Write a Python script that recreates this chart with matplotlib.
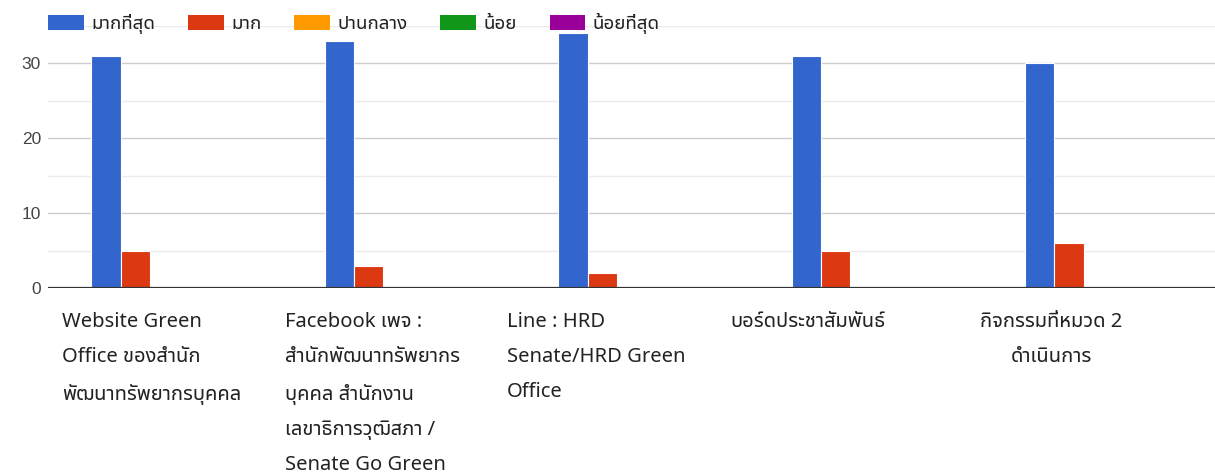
import numpy as np
import matplotlib
matplotlib.use("Agg")
import matplotlib.pyplot as plt
from matplotlib.patches import Patch
import matplotlib.transforms as mtransforms

THAI = ["Noto Sans Thai UI", "Noto Sans", "DejaVu Sans"]

# ---------------- Data ----------------
categories = [
    "Website Green\nOffice ของสำนัก\nพัฒนาทรัพยากรบุคคล",
    "Facebook เพจ :\nสำนักพัฒนาทรัพยากร\nบุคคล สำนักงาน\nเลขาธิการวุฒิสภา /\nSenate Go Green",
    "Line : HRD\nSenate/HRD Green\nOffice",
    "บอร์ดประชาสัมพันธ์",
    "กิจกรรมที่หมวด 2\nดำเนินการ",
]
series_names = ["มากที่สุด", "มาก", "ปานกลาง", "น้อย", "น้อยที่สุด"]
series_colors = ["#3366cc", "#dc3912", "#ff9900", "#109618", "#990099"]
most = [31, 33, 34, 31, 30]
much = [5, 3, 2, 5, 6]
medium = [0, 0, 0, 0, 0]
little = [0, 0, 0, 0, 0]
least = [0, 0, 0, 0, 0]
values = [most, much, medium, little, least]

# label anchors (data x) and alignment for wrapped category labels
label_x = [-0.44, 0.515, 1.467, 2.422, 3.797]
label_ha = ["left", "left", "left", "left", "center"]

# ---------------- Plot ----------------
fig = plt.figure(figsize=(12.15, 4.75), dpi=100)
ax = fig.add_axes([48 / 1215, 1 - 288 / 475, 1 - 48 / 1215, 262.5 / 475])

x = np.arange(len(categories))
group = 0.628
w = group / len(values)
for i, (vals, col) in enumerate(zip(values, series_colors)):
    ax.bar(x - group / 2 + w * (i + 0.5), vals, width=w, color=col,
           edgecolor="white", linewidth=0.8, zorder=3)

ax.set_xlim(-0.5, len(categories) - 0.5)
ax.set_ylim(0, 35)
ax.set_yticks([0, 10, 20, 30])
ax.set_yticks([5, 15, 25, 35], minor=True)
ax.grid(axis="y", which="major", color="#cccccc", linewidth=1, zorder=0)
ax.grid(axis="y", which="minor", color="#ebebeb", linewidth=1, zorder=0)
ax.axhline(0, color="#333333", linewidth=1.6, zorder=4)
for s in ax.spines.values():
    s.set_visible(False)
ax.tick_params(axis="y", which="both", length=0, pad=5, labelsize=12.5,
               labelcolor="#444444")
ax.tick_params(axis="x", length=0, labelbottom=False)
for lab in ax.get_yticklabels():
    lab.set_family("Liberation Sans")

trans = mtransforms.blended_transform_factory(ax.transData, ax.transAxes)
for lx, ha, txt in zip(label_x, label_ha, categories):
    ax.text(lx, -0.09, txt, transform=trans, ha=ha, va="top",
            multialignment=ha, fontsize=14.5, color="#222222",
            family=THAI, linespacing=2.02)

handles = [Patch(facecolor=c, edgecolor="none") for c in series_colors]
leg = fig.legend(handles, series_names, loc="center left",
                 bbox_to_anchor=(48 / 1215, 1 - 23 / 475), ncol=5,
                 frameon=False, borderpad=0, borderaxespad=0,
                 handlelength=1.9, handleheight=0.85, handletextpad=0.4,
                 columnspacing=1.75, prop={"family": THAI, "size": 13.5})
for t in leg.get_texts():
    t.set_color("#222222")

fig.savefig("out.png", dpi=100)
